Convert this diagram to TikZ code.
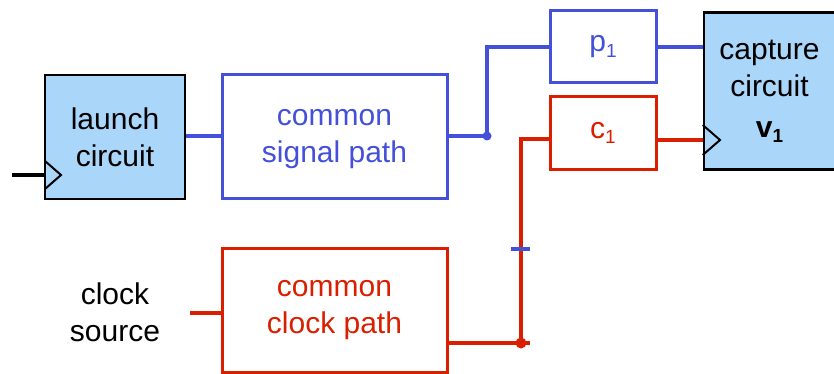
\documentclass[tikz,border=0pt]{standalone}
\usepackage{fontspec}
\setmainfont{Liberation Sans}
\definecolor{wblue}{RGB}{68,80,218}
\definecolor{wred}{RGB}{218,30,0}
\definecolor{cfill}{RGB}{170,214,250}
\newcommand{\mysub}[1]{\raisebox{-0.35ex}{\fontsize{19}{19}\selectfont #1}}
\begin{document}
\begin{tikzpicture}[x=1pt,y=-1pt,
  txt/.style={font=\fontsize{30}{37}\selectfont,align=center},
  reg/.style={draw=black,line width=2.5pt,fill=cfill,txt,inner sep=0pt},
  bbox/.style={draw=wblue,line width=3pt,txt,text=wblue,inner sep=0pt},
  rbox/.style={draw=wred,line width=3pt,txt,text=wred,inner sep=0pt},
  bw/.style={draw=wblue,line width=4pt},
  rw/.style={draw=wred,line width=4pt},
  clk/.style={draw=black,line width=2pt}]
\useasboundingbox (0,0) rectangle (834,374);
\node[reg,minimum width=140pt,minimum height=124pt] (launch) at (115,137) {launch\\circuit};
\node[bbox,minimum width=225pt,minimum height=123pt] (sig) at (334.5,136.5) {\raisebox{-4pt}{\begin{tabular}{@{}c@{}}common\\signal path\end{tabular}}};
\node[bbox,minimum width=106pt,minimum height=72pt] (p1) at (603,47) {p\mysub{1}};
\node[rbox,minimum width=106pt,minimum height=73pt] (c1) at (603,133) {c\mysub{1}};
\node[reg,minimum width=131pt,minimum height=157pt] (cap) at (769.5,91) {\raisebox{-3pt}{\begin{tabular}{@{}c@{}}capture\\circuit\\[4pt]\textbf{v\mysub{\bfseries 1}}\end{tabular}}};
\node[rbox,minimum width=225pt,minimum height=124pt] (cpath) at (334.5,310) {common\\clock path};
\node[txt,text=black] (src) at (115,312) {clock\\source};
% launch clock
\coordinate (lin) at (12,175);
\coordinate (lclk) at (45,175);
\draw[black,line width=4pt] (lin) -- (lclk);
\draw[clk] (45,161) -- (61,175) -- (45,189);
% capture clock
\draw[clk] (cap.west |- 0,125) -- (720,140) -- (cap.west |- 0,155);
% blue signal
\coordinate (jb) at (487,136);
\draw[bw] (launch.east |- jb) -- (sig.west |- jb);
\draw[bw] (sig.east |- jb) -- (jb) |- (p1.west);
\fill[wblue] (jb) circle (4.5);
\draw[bw] (p1.east) -- (cap.west |- p1.east);
% red clock
\coordinate (jr) at (521,343);
\coordinate (cs) at (190,313);
\draw[rw] (cs) -- (cpath.west |- cs);
\draw[rw] (cpath.east |- jr) -- ([xshift=9pt]jr);
\draw[rw] (jr) |- ([yshift=-6pt]c1.west);
\fill[wred] (jr) circle (5.5);
\draw[rw] ([yshift=-7pt]c1.east) -- (cap.west |- 0,140);
\draw[wblue,line width=3.5pt] (511,249) -- (530,249);
\end{tikzpicture}
\end{document}
